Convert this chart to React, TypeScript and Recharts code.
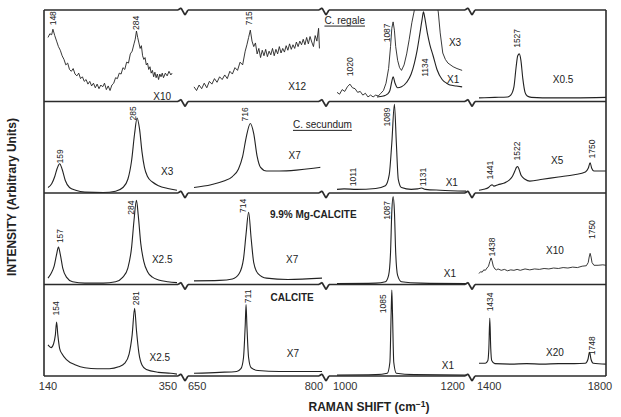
import React from 'react';
import { LineChart, Line, XAxis, YAxis, ReferenceLine, ReferenceDot } from 'recharts';

// ---- broken x axis (Raman shift, cm-1) ----
const segWn: number[][] = [[140, 350], [650, 800], [1000, 1200], [1400, 1800]];
const segU: number[][] = [[4, 133], [150, 278], [293, 422], [435, 562]];
const breakU = [140, 281, 427];
const tickWn = [140, 350, 650, 800, 1000, 1200, 1400, 1800];

// ---- spectra: [wavenumber, intensity within panel (0-100)] ----
// Panel 0: C. regale
const regale1: number[][] = [[140,70],[143,74],[146,73],[148,79],[151,72],[154,66],[157,60],[160,56],[163,50],[166,46],[169,40],[172,42],[175,35],[178,33],[181,36],[184,30],[187,28],[190,31],[193,25],[196,27],[199,22],[202,24],[205,19],[208,22],[211,17],[214,20],[217,15],[220,19],[223,14],[226,18],[229,16],[232,20],[235,13],[238,17],[241,12],[244,18],[247,20],[250,26],[253,25],[256,31],[259,30],[262,37],[265,35],[268,43],[271,42],[274,52],[277,55],[280,63],[282,68],[284,77],[286,70],[288,64],[290,58],[292,61],[294,50],[296,46],[298,48],[300,40],[302,42],[304,35],[306,38],[308,31],[310,34],[312,27],[314,32],[316,26],[318,30],[320,24],[322,30],[324,27],[326,31],[328,26],[331,31],[334,28],[337,33],[340,29],[342,31]];
const regale2: number[][] = [[650,16],[653,12],[656,18],[659,14],[662,20],[665,15],[668,22],[671,19],[674,25],[677,21],[680,27],[683,24],[686,29],[689,25],[692,33],[695,30],[698,37],[701,34],[704,43],[707,40],[710,55],[712,62],[714,70],[716,78],[718,66],[720,60],[722,64],[724,52],[726,58],[728,48],[730,56],[732,50],[734,57],[736,49],[738,55],[740,51],[742,58],[744,50],[746,57],[748,52],[750,60],[752,53],[754,58],[756,54],[758,61],[760,56],[762,63],[764,57],[766,62],[768,58],[770,65],[772,60],[774,66],[776,62],[778,68],[780,62],[782,70],[784,63],[786,71],[788,65],[790,60],[792,72],[794,66],[796,80],[797,58]];
const regale3x3: number[][] = [[1000,10],[1004,8],[1008,13],[1012,11],[1016,16],[1020,19],[1024,15],[1028,14],[1032,10],[1036,11],[1040,7],[1044,9],[1048,5],[1052,7],[1056,5],[1060,7],[1064,6],[1068,9],[1072,12],[1076,20],[1080,36],[1083,60],[1085,80],[1087,87],[1089,78],[1091,60],[1094,45],[1097,37],[1100,34],[1104,40],[1108,52],[1112,68],[1116,86],[1120,100],[1125,125],[1134,150],[1145,135],[1152,115],[1157,98],[1160,75],[1164,53],[1168,46],[1172,42],[1180,38],[1186,36],[1194,34]];
const regale3x1: number[][] = [[1062,5],[1072,6],[1078,8],[1082,12],[1085,22],[1087,27],[1090,20],[1094,15],[1100,16],[1108,21],[1115,30],[1120,42],[1124,55],[1128,72],[1132,90],[1134,98],[1136,92],[1140,75],[1144,62],[1149,50],[1155,35],[1163,24],[1170,20],[1175,18],[1185,17],[1194,16]];
const regale4: number[][] = [[1400,4],[1450,4.5],[1490,5],[1500,7],[1510,16],[1517,38],[1522,50],[1527,52],[1532,45],[1538,25],[1545,10],[1552,6],[1565,4.5],[1600,4],[1700,4],[1800,4.5]];

// Panel 1: C. secundum
const secundum1: number[][] = [[140,6],[146,10],[151,18],[155,27],[159,32],[163,26],[168,14],[175,6],[185,3],[200,1],[230,0.5],[250,2],[262,6],[270,15],[276,35],[281,65],[285,82],[289,70],[293,45],[297,28],[302,18],[310,12],[320,8],[335,5],[350,3]];
const secundum2: number[][] = [[650,6],[670,9],[685,13],[695,18],[702,26],[707,40],[711,60],[716,76],[720,65],[724,40],[728,28],[735,24],[750,24],[770,25],[790,27],[798,28]];
const secundum3: number[][] = [[1000,4],[1011,4.5],[1030,4],[1060,5],[1075,8],[1081,20],[1085,55],[1089,97],[1092,55],[1095,15],[1100,6],[1115,4],[1125,4.5],[1131,5.5],[1137,4],[1160,3],[1200,2]];
const secundum4: number[][] = [[1400,3],[1415,4],[1430,6],[1436,8],[1441,9],[1447,7.5],[1460,9],[1480,11],[1495,14],[1505,18],[1513,24],[1518,28],[1522,29],[1527,25],[1533,19],[1545,15],[1560,13],[1600,15],[1650,17.5],[1700,20],[1735,23],[1744,27],[1750,33],[1755,27],[1762,24],[1800,24]];

// Panel 2: 9.9% Mg-calcite
const mgCalcite1: number[][] = [[140,7],[145,12],[150,20],[154,33],[157,41],[160,33],[164,18],[170,8],[180,3],[200,1.5],[230,1.5],[250,3],[262,8],[270,18],[276,40],[280,70],[284,92],[287,75],[291,45],[296,25],[302,14],[310,8],[320,5],[335,3],[350,2]];
const mgCalcite2: number[][] = [[650,4],[680,4.5],[695,6],[703,12],[708,28],[711,55],[714,79],[717,50],[720,24],[725,12],[735,7],[760,5.5],[800,7]];
const mgCalcite3: number[][] = [[1000,1],[1060,1.5],[1075,3],[1080,10],[1083,35],[1085,80],[1087,96],[1089,80],[1091,35],[1094,10],[1100,3],[1130,1.5],[1200,1]];
const mgCalcite4: number[][] = [[1400,12],[1405,14],[1410,13.5],[1415,16],[1420,15.5],[1425,18],[1430,20],[1434,25],[1438,29],[1441,26],[1445,20],[1450,17],[1455,16],[1460,17],[1470,15.5],[1480,16.5],[1490,15],[1500,16],[1510,15.5],[1520,16.5],[1530,15.5],[1545,17],[1560,16],[1575,17],[1590,16.5],[1605,17.5],[1620,17],[1635,18],[1650,17.5],[1665,18.5],[1680,18],[1695,19],[1710,18.5],[1725,20],[1738,20.5],[1744,24],[1747,30],[1750,34],[1753,30],[1756,24],[1762,21],[1775,21],[1790,21.5],[1800,21]];

// Panel 3: calcite
const calcite1: number[][] = [[140,34],[145,31],[149,35],[152,45],[154,59],[156,45],[159,30],[163,24],[170,18],[185,12],[200,9],[220,8],[240,8],[255,10],[265,14],[272,24],[277,45],[281,74],[284,50],[288,25],[293,12],[300,7],[320,4],[340,3],[350,2]];
const calcite2: number[][] = [[650,3],[680,4],[700,5],[705,8],[708,20],[710,55],[711,78],[712,55],[714,20],[717,9],[725,6],[750,5],[780,5],[800,5]];
const calcite3: number[][] = [[1000,1],[1060,1.5],[1078,3],[1082,15],[1084,70],[1085,94],[1086,70],[1088,15],[1092,3],[1120,1.5],[1200,1]];
const calcite4: number[][] = [[1400,14],[1420,14],[1428,17],[1431,30],[1434,63],[1437,30],[1440,17],[1450,13.5],[1500,13],[1550,13.5],[1600,13],[1650,13.5],[1700,13.5],[1735,14],[1743,18],[1748,26],[1753,18],[1760,14],[1800,13]];

// ---- annotations: [panel, wavenumber, level, text] ----
const peakLabels: [number, number, number, string][] = [
  [0,148,91,'148'],[0,284,86,'284'],[0,715,91,'715'],[0,1020,38,'1020'],[0,1078,75,'1087'],[0,1136,37,'1134'],[0,1520,69,'1527'],
  [1,159.5,40,'159'],[1,278,87,'285'],[1,710,86,'716'],[1,1078,83,'1089'],[1,1025,17.5,'1011'],[1,1133,17.5,'1131'],[1,1435,25,'1441'],[1,1520,46,'1522'],[1,1756,48,'1750'],
  [2,159.5,53,'157'],[2,275,84,'284'],[2,707,86,'714'],[2,1078,81,'1087'],[2,1441,41,'1438'],[2,1756,60,'1750'],
  [3,153,74,'154'],[3,283,85,'281'],[3,713,87,'711'],[3,1071,79,'1085'],[3,1435,81,'1434'],[3,1756,33,'1748'],
];
const scaleLabels: [number, number, number, string][] = [
  [0,326,6,'X10'],[0,771,16,'X12'],[0,1183,64,'X3'],[0,1180,23.5,'X1'],[0,1665,23.5,'X0.5'],
  [1,334,23,'X3'],[1,768,41.5,'X7'],[1,1178,11,'X1'],[1,1646,36,'X5'],
  [2,326,27,'X2.5'],[2,765,27,'X7'],[2,1175,12.5,'X1'],[2,1639,37.7,'X10'],
  [3,322,20,'X2.5'],[3,766,25,'X7'],[3,1172,12,'X1'],[3,1639,26,'X20'],
];
const sampleLabels: [number, number, number, string, string, boolean][] = [
  [0,1012,89,'C. regale','middle',true],
  [1,766,75,'C. secundum','start',true],
  [2,739,76,'9.9% Mg-CALCITE','start',false],
  [3,765,86,'CALCITE','middle',false],
];

// ---- helpers ----
const FONT = "'Liberation Sans', Arial, Helvetica, sans-serif";
const INK = '#222';
const Y_PX = 366 / 400;

function toU(wn: number): number {
  for (let i = 0; i < segWn.length; i++) {
    const [a, b] = segWn[i];
    if (wn >= a - 1e-6 && wn <= b + 1e-6) {
      const [u0, u1] = segU[i];
      return u0 + ((wn - a) * (u1 - u0)) / (b - a);
    }
  }
  return 0;
}
const base = (p: number) => (3 - p) * 100;

const series: { p: number; pts: number[][]; noisy: boolean }[] = [
  { p: 0, pts: regale1, noisy: true },
  { p: 0, pts: regale2, noisy: true },
  { p: 0, pts: regale3x3, noisy: true },
  { p: 0, pts: regale3x1, noisy: false },
  { p: 0, pts: regale4, noisy: false },
  { p: 1, pts: secundum1, noisy: false },
  { p: 1, pts: secundum2, noisy: false },
  { p: 1, pts: secundum3, noisy: false },
  { p: 1, pts: secundum4, noisy: false },
  { p: 2, pts: mgCalcite1, noisy: false },
  { p: 2, pts: mgCalcite2, noisy: false },
  { p: 2, pts: mgCalcite3, noisy: false },
  { p: 2, pts: mgCalcite4, noisy: true },
  { p: 3, pts: calcite1, noisy: false },
  { p: 3, pts: calcite2, noisy: false },
  { p: 3, pts: calcite3, noisy: false },
  { p: 3, pts: calcite4, noisy: false },
];
const seriesRows = series.map((s) => s.pts.map(([wn, v]) => ({ x: toU(wn), y: base(s.p) + v })));

const zig = [[-6, 0], [-3, -2], [1, 5], [4, 0]];
function borderSegments(y: number) {
  const pts: { x: number; y: number }[] = [{ x: 0, y }];
  breakU.forEach((b) => zig.forEach(([dx, dy]) => pts.push({ x: b + dx, y: y - dy / Y_PX })));
  pts.push({ x: 562, y });
  const segs: { x: number; y: number }[][] = [];
  for (let i = 0; i < pts.length - 1; i++) segs.push([pts[i], pts[i + 1]]);
  return segs;
}
const borders = [0, 100, 200, 300, 400].flatMap((y) => borderSegments(y));

const tickU = tickWn.map(toU);
const tickAnchor = ['middle', 'end', 'start', 'end', 'start', 'end', 'start', 'middle'];
const tickDx = [0, 0, -6, 1, -4, -1, -2, -6];

function Tick(props: any) {
  const { x, y, payload } = props;
  let i = tickU.findIndex((u) => Math.abs(u - payload.value) < 0.01);
  if (i < 0) i = 0;
  return (
    <text x={x + tickDx[i]} y={y + 14} textAnchor={tickAnchor[i] as any} fontSize={11} fill="#333" fontFamily={FONT}>
      {tickWn[i]}
    </text>
  );
}

function XTitle(props: any) {
  const vb = props && props.viewBox;
  const cx = vb ? vb.x + vb.width / 2 + 44 : 325;
  const y = vb ? vb.y + 35 : 411;
  return (
    <text x={cx} y={y} textAnchor="middle" fontSize={12} fontWeight="bold" fill={INK} fontFamily={FONT}>
      RAMAN SHIFT (cm
      <tspan dy={-4} fontSize={8.5}>−1</tspan>
      <tspan dy={4}>)</tspan>
    </text>
  );
}

function YTitle(props: any) {
  const vb = props && props.viewBox;
  const cy = vb ? vb.y + vb.height / 2 + 4 : 197;
  const x = 12;
  return (
    <text x={x} y={cy} transform={`rotate(-90 ${x} ${cy})`} textAnchor="middle" dominantBaseline="central" fontSize={12} fontWeight="bold" fill={INK} fontFamily={FONT}>
      INTENSITY (Arbitrary Units)
    </text>
  );
}

export default function App() {
  return (
    <div style={{ position: 'absolute', left: 0, top: 0, width: 621, height: 417, background: '#fff' }}>
      <LineChart width={621} height={417} margin={{ top: 10, right: 15, bottom: 0, left: 0 }}>
        <XAxis
          type="number"
          dataKey="x"
          domain={[0, 562]}
          allowDataOverflow
          ticks={tickU}
          interval={0}
          axisLine={false}
          tickLine={false}
          tickSize={0}
          tickMargin={0}
          height={41}
          tick={<Tick />}
          label={(p: any) => <XTitle {...p} />}
        />
        <YAxis
          type="number"
          domain={[0, 400]}
          allowDataOverflow
          width={44}
          tick={false}
          axisLine={false}
          tickLine={false}
          label={(p: any) => <YTitle {...p} />}
        />
        {seriesRows.map((rows, i) => (
          <Line
            key={'s' + i}
            data={rows}
            dataKey="y"
            type={series[i].noisy ? 'linear' : 'monotone'}
            stroke={INK}
            strokeWidth={series[i].noisy ? 0.9 : 1.1}
            dot={false}
            activeDot={false}
            isAnimationActive={false}
          />
        ))}
        {borders.map((seg, i) => (
          <ReferenceLine key={'b' + i} segment={seg} stroke="#2b2b2b" strokeWidth={1.6} ifOverflow="visible" />
        ))}
        <ReferenceLine segment={[{ x: 0, y: 0 }, { x: 0, y: 400 }]} stroke="#2b2b2b" strokeWidth={1.6} ifOverflow="visible" />
        <ReferenceLine segment={[{ x: 562, y: 0 }, { x: 562, y: 400 }]} stroke="#2b2b2b" strokeWidth={1.6} ifOverflow="visible" />
        {peakLabels.map(([p, wn, v, t], i) => (
          <ReferenceDot
            key={'pl' + i}
            x={toU(wn)}
            y={base(p) + v}
            r={0}
            ifOverflow="visible"
            shape={(s: any) => (
              <text x={s.cx} y={s.cy} transform={`rotate(-90 ${s.cx} ${s.cy})`} textAnchor="middle" dominantBaseline="central" fontSize={8.5} fill={INK} fontFamily={FONT}>
                {t}
              </text>
            )}
          />
        ))}
        {scaleLabels.map(([p, wn, v, t], i) => (
          <ReferenceDot
            key={'sl' + i}
            x={toU(wn)}
            y={base(p) + v}
            r={0}
            ifOverflow="visible"
            shape={(s: any) => (
              <text x={s.cx} y={s.cy} textAnchor="middle" dominantBaseline="central" fontSize={10} fill={INK} fontFamily={FONT}>
                {t}
              </text>
            )}
          />
        ))}
        {sampleLabels.map(([p, wn, v, t, anchor, ul], i) => (
          <ReferenceDot
            key={'nl' + i}
            x={toU(wn)}
            y={base(p) + v}
            r={0}
            ifOverflow="visible"
            shape={(s: any) => (
              <text x={s.cx} y={s.cy} textAnchor={anchor as any} dominantBaseline="central" fontSize={10} fontWeight={ul ? 'normal' : 'bold'} textDecoration={ul ? 'underline' : undefined} fill={INK} fontFamily={FONT}>
                {t}
              </text>
            )}
          />
        ))}
      </LineChart>
    </div>
  );
}
